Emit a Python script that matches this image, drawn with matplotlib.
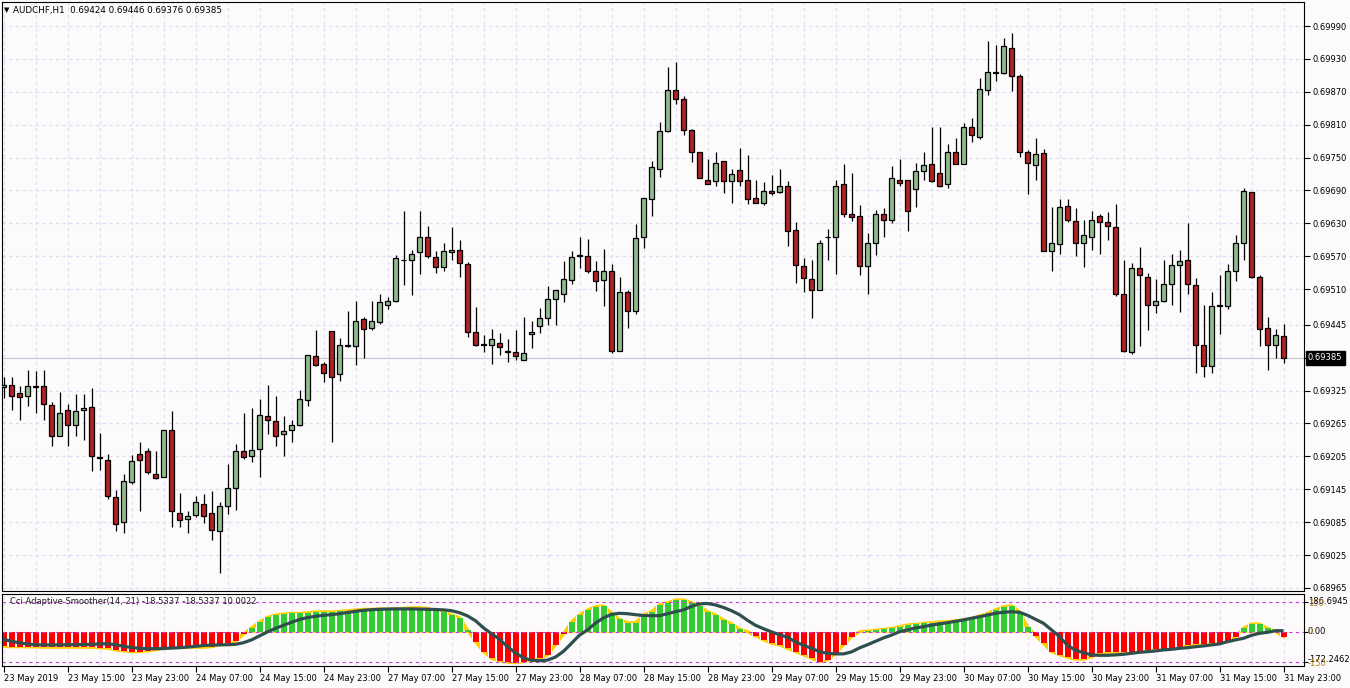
import numpy as np
import matplotlib
matplotlib.use("Agg")
import matplotlib.pyplot as plt
from matplotlib.transforms import blended_transform_factory, ScaledTranslation

# ---------------- data (AUDCHF H1, 23 May 07:00 .. 31 May 23:00) ----------------
opens = [0.69331, 0.69335, 0.69320, 0.69315, 0.69332, 0.69333, 0.69298, 0.69243, 0.69289, 0.69262,
         0.69289, 0.69295, 0.69203, 0.69198, 0.69130, 0.69085, 0.69158, 0.69209, 0.69214, 0.69172,
         0.69167, 0.69253, 0.69102, 0.69090, 0.69098, 0.69119, 0.69101, 0.69068, 0.69114, 0.69147,
         0.69214, 0.69205, 0.69218, 0.69278, 0.69269, 0.69245, 0.69253, 0.69262, 0.69307, 0.69388,
         0.69373, 0.69433, 0.69355, 0.69406, 0.69406, 0.69455, 0.69439, 0.69450, 0.69482, 0.69488,
         0.69563, 0.69563, 0.69577, 0.69606, 0.69568, 0.69550, 0.69577, 0.69581, 0.69555, 0.69431,
         0.69410, 0.69408, 0.69411, 0.69397, 0.69395, 0.69380, 0.69428, 0.69442, 0.69457, 0.69492,
         0.69502, 0.69526, 0.69572, 0.69570, 0.69544, 0.69526, 0.69543, 0.69398, 0.69504, 0.69471,
         0.69605, 0.69674, 0.69730, 0.69798, 0.69873, 0.69856, 0.69800, 0.69760, 0.69710, 0.69707,
         0.69743, 0.69707, 0.69727, 0.69709, 0.69676, 0.69667, 0.69689, 0.69687, 0.69699, 0.69617,
         0.69552, 0.69528, 0.69508, 0.69606, 0.69605, 0.69701, 0.69647, 0.69643, 0.69552, 0.69594,
         0.69647, 0.69637, 0.69709, 0.69709, 0.69692, 0.69725, 0.69738, 0.69721, 0.69701, 0.69760,
         0.69738, 0.69805, 0.69787, 0.69873, 0.69907, 0.69904, 0.69949, 0.69898, 0.69760, 0.69736,
         0.69758, 0.69579, 0.69592, 0.69661, 0.69634, 0.69594, 0.69606, 0.69643, 0.69632, 0.69623,
         0.69502, 0.69395, 0.69548, 0.69533, 0.69481, 0.69488, 0.69519, 0.69554, 0.69563, 0.69517,
         0.69409, 0.69369, 0.69481, 0.69479, 0.69543, 0.69594, 0.69687, 0.69532, 0.69439, 0.69409,
         0.69424]
highs = [0.69350, 0.69349, 0.69333, 0.69363, 0.69361, 0.69363, 0.69304, 0.69322, 0.69300, 0.69319,
         0.69319, 0.69330, 0.69248, 0.69209, 0.69144, 0.69172, 0.69207, 0.69231, 0.69220, 0.69214,
         0.69253, 0.69287, 0.69138, 0.69105, 0.69133, 0.69136, 0.69141, 0.69121, 0.69191, 0.69227,
         0.69284, 0.69293, 0.69309, 0.69336, 0.69315, 0.69278, 0.69271, 0.69326, 0.69389, 0.69436,
         0.69378, 0.69433, 0.69420, 0.69470, 0.69488, 0.69459, 0.69488, 0.69501, 0.69495, 0.69572,
         0.69652, 0.69581, 0.69652, 0.69626, 0.69579, 0.69594, 0.69623, 0.69599, 0.69559, 0.69477,
         0.69426, 0.69437, 0.69430, 0.69419, 0.69435, 0.69459, 0.69451, 0.69475, 0.69515, 0.69508,
         0.69561, 0.69579, 0.69605, 0.69601, 0.69561, 0.69583, 0.69555, 0.69532, 0.69508, 0.69628,
         0.69676, 0.69743, 0.69814, 0.69915, 0.69924, 0.69862, 0.69802, 0.69761, 0.69747, 0.69761,
         0.69743, 0.69729, 0.69767, 0.69754, 0.69710, 0.69705, 0.69718, 0.69729, 0.69707, 0.69632,
         0.69566, 0.69564, 0.69599, 0.69619, 0.69710, 0.69738, 0.69721, 0.69663, 0.69612, 0.69654,
         0.69658, 0.69734, 0.69747, 0.69709, 0.69740, 0.69761, 0.69805, 0.69805, 0.69774, 0.69785,
         0.69813, 0.69823, 0.69895, 0.69963, 0.69955, 0.69969, 0.69977, 0.69902, 0.69763, 0.69785,
         0.69765, 0.69659, 0.69674, 0.69674, 0.69658, 0.69636, 0.69652, 0.69648, 0.69650, 0.69665,
         0.69564, 0.69557, 0.69586, 0.69539, 0.69528, 0.69564, 0.69574, 0.69581, 0.69630, 0.69530,
         0.69482, 0.69504, 0.69535, 0.69555, 0.69608, 0.69694, 0.69687, 0.69535, 0.69459, 0.69437,
         0.69446]
lows = [0.69311, 0.69290, 0.69271, 0.69297, 0.69285, 0.69271, 0.69223, 0.69243, 0.69223, 0.69243,
        0.69234, 0.69179, 0.69181, 0.69127, 0.69068, 0.69065, 0.69155, 0.69106, 0.69172, 0.69163,
        0.69167, 0.69076, 0.69077, 0.69066, 0.69094, 0.69084, 0.69053, 0.68992, 0.69099, 0.69108,
        0.69200, 0.69194, 0.69168, 0.69245, 0.69223, 0.69206, 0.69232, 0.69260, 0.69297, 0.69369,
        0.69340, 0.69231, 0.69342, 0.69404, 0.69372, 0.69385, 0.69435, 0.69446, 0.69473, 0.69486,
        0.69518, 0.69500, 0.69538, 0.69566, 0.69539, 0.69544, 0.69563, 0.69532, 0.69422, 0.69406,
        0.69395, 0.69373, 0.69389, 0.69377, 0.69380, 0.69380, 0.69402, 0.69430, 0.69444, 0.69445,
        0.69486, 0.69519, 0.69548, 0.69539, 0.69506, 0.69480, 0.69393, 0.69398, 0.69440, 0.69464,
        0.69585, 0.69644, 0.69714, 0.69796, 0.69847, 0.69791, 0.69742, 0.69712, 0.69701, 0.69698,
        0.69685, 0.69667, 0.69698, 0.69665, 0.69667, 0.69663, 0.69681, 0.69685, 0.69589, 0.69521,
        0.69504, 0.69457, 0.69508, 0.69564, 0.69537, 0.69641, 0.69634, 0.69535, 0.69502, 0.69572,
        0.69606, 0.69630, 0.69698, 0.69616, 0.69659, 0.69709, 0.69705, 0.69696, 0.69694, 0.69738,
        0.69738, 0.69779, 0.69783, 0.69864, 0.69889, 0.69902, 0.69871, 0.69751, 0.69683, 0.69709,
        0.69579, 0.69544, 0.69575, 0.69632, 0.69570, 0.69550, 0.69581, 0.69575, 0.69599, 0.69497,
        0.69395, 0.69391, 0.69406, 0.69435, 0.69466, 0.69486, 0.69482, 0.69468, 0.69501, 0.69357,
        0.69349, 0.69357, 0.69428, 0.69473, 0.69524, 0.69563, 0.69530, 0.69406, 0.69362, 0.69384,
        0.69376]
closes = [0.69335, 0.69315, 0.69313, 0.69333, 0.69333, 0.69300, 0.69243, 0.69285, 0.69262, 0.69287,
          0.69293, 0.69205, 0.69202, 0.69132, 0.69081, 0.69160, 0.69196, 0.69198, 0.69176, 0.69165,
          0.69253, 0.69105, 0.69088, 0.69096, 0.69121, 0.69096, 0.69070, 0.69114, 0.69147, 0.69214,
          0.69203, 0.69216, 0.69280, 0.69271, 0.69242, 0.69251, 0.69262, 0.69309, 0.69389, 0.69371,
          0.69357, 0.69349, 0.69408, 0.69409, 0.69451, 0.69437, 0.69451, 0.69486, 0.69488, 0.69566,
          0.69564, 0.69574, 0.69605, 0.69570, 0.69550, 0.69579, 0.69581, 0.69557, 0.69431, 0.69409,
          0.69409, 0.69419, 0.69404, 0.69396, 0.69388, 0.69393, 0.69431, 0.69457, 0.69492, 0.69508,
          0.69528, 0.69568, 0.69570, 0.69543, 0.69524, 0.69543, 0.69398, 0.69504, 0.69471, 0.69603,
          0.69676, 0.69732, 0.69798, 0.69873, 0.69856, 0.69800, 0.69760, 0.69712, 0.69701, 0.69741,
          0.69707, 0.69720, 0.69707, 0.69674, 0.69668, 0.69689, 0.69685, 0.69698, 0.69616, 0.69554,
          0.69530, 0.69508, 0.69594, 0.69605, 0.69699, 0.69648, 0.69641, 0.69552, 0.69594, 0.69647,
          0.69636, 0.69712, 0.69703, 0.69652, 0.69725, 0.69736, 0.69707, 0.69699, 0.69760, 0.69738,
          0.69805, 0.69792, 0.69875, 0.69906, 0.69904, 0.69953, 0.69898, 0.69761, 0.69741, 0.69756,
          0.69579, 0.69594, 0.69659, 0.69636, 0.69594, 0.69608, 0.69637, 0.69632, 0.69626, 0.69502,
          0.69397, 0.69548, 0.69535, 0.69481, 0.69488, 0.69519, 0.69554, 0.69561, 0.69519, 0.69408,
          0.69369, 0.69479, 0.69479, 0.69543, 0.69595, 0.69689, 0.69533, 0.69437, 0.69409, 0.69426,
          0.69385]

# Cci Adaptive Smoother histogram values and its smoothed line
cci_hist = [-70, -72, -72, -73, -73, -75, -75, -75, -75, -75,
            -75, -75, -77, -80, -88, -93, -97, -97, -93, -88,
            -80, -73, -72, -75, -75, -75, -72, -63, -55, -45,
            -10, 23, 50, 75, 87, 92, 95, 95, 98, 102,
            103, 102, 105, 108, 112, 115, 115, 117, 117, 117,
            120, 123, 123, 120, 108, 103, 87, 73, 12, -47,
            -97, -130, -142, -150, -152, -147, -138, -130, -113, -63,
            -8, 53, 87, 112, 128, 132, 95, 65, 48, 48,
            87, 103, 137, 148, 162, 162, 148, 132, 103, 87,
            62, 42, 17, 3, -18, -38, -55, -63, -80, -97,
            -113, -130, -147, -138, -105, -63, -22, 3, 7, 10,
            15, 20, 28, 37, 40, 45, 48, 52, 53, 58,
            62, 70, 82, 95, 112, 128, 133, 103, 28, -17,
            -55, -97, -113, -125, -135, -135, -122, -105, -100, -100,
            -100, -97, -93, -88, -85, -83, -80, -72, -63, -60,
            -58, -55, -52, -42, -22, 20, 42, 42, 20, 3,
            -22]
cci_line = [-35, -45, -53, -58, -62, -63, -63, -63, -62, -62,
            -61, -60, -58, -57, -62, -70, -76, -80, -82, -82,
            -81, -79, -77, -74, -70, -66, -64, -63, -62, -60,
            -52, -38, -18, 2, 20, 35, 50, 64, 74, 80,
            85, 88, 93, 99, 105, 110, 113, 115, 116, 117,
            117, 117, 116, 115, 114, 112, 108, 98, 82, 58,
            22, -7, -35, -72, -103, -128, -140, -142, -139, -124,
            -95, -55, -14, 12, 46, 72, 90, 95, 93, 88,
            84, 83, 83, 93, 103, 112, 130, 142, 144, 137,
            124, 108, 88, 60, 35, 18, 2, -12, -25, -48,
            -65, -80, -97, -105, -108, -108, -98, -78, -62, -45,
            -28, -14, 3, 12, 22, 28, 36, 42, 48, 55,
            62, 70, 78, 86, 95, 100, 103, 100, 85, 65,
            45, 12, -22, -65, -90, -102, -113, -115, -115, -113,
            -110, -105, -100, -97, -93, -88, -85, -80, -77, -72,
            -68, -63, -58, -47, -38, -30, -15, -5, 0, 8,
            8]
cci_levels = [150, 0, -150]

price_labels = ["0.69990", "0.69930", "0.69870", "0.69810", "0.69750", "0.69690",
                "0.69630", "0.69570", "0.69510", "0.69445", "0.69385", "0.69325",
                "0.69265", "0.69205", "0.69145", "0.69085", "0.69025", "0.68965"]
time_labels = ["23 May 2019", "23 May 15:00", "23 May 23:00", "24 May 07:00", "24 May 15:00",
               "24 May 23:00", "27 May 07:00", "27 May 15:00", "27 May 23:00", "28 May 07:00",
               "28 May 15:00", "28 May 23:00", "29 May 07:00", "29 May 15:00", "29 May 23:00",
               "30 May 07:00", "30 May 15:00", "30 May 23:00", "31 May 07:00", "31 May 15:00",
               "31 May 23:00"]
symbol = "AUDCHF,H1"
ind_title = "Cci Adaptive Smoother(14, 21) -18.5337 -18.5337 10.0022"

# ---------------- style ----------------
W, H = 1350, 688
BG = "#FCFAFA"
GRID = "#DCDCF2"
BULL = "#8FBC8F"
BEAR = "#B22222"
GREEN = "#32CD32"
RED = "#FF0000"
YELLOW = "#FFD000"
LINEC = "#2F4F4F"
MAG = "#C23FD6"
plt.rcParams['font.family'] = ['DejaVu Sans']
plt.rcParams['font.size'] = 6

fig = plt.figure(figsize=(W / 100, H / 100), dpi=100, facecolor=BG)


def box(l, t, r, b):
    return [l / W, 1 - b / H, (r - l) / W, (b - t) / H]


def ftext(x, y, s, **kw):
    kw.setdefault('va', 'center')
    kw.setdefault('ha', 'left')
    fig.text(x / W, 1 - y / H, s, **kw)


ax = fig.add_axes(box(2, 2, 1304, 591), facecolor=BG)
ax2 = fig.add_axes(box(2, 594, 1304, 666), facecolor=BG)

n = len(opens)
idx = np.arange(n)
o, h, l, c = (np.array(v) for v in (opens, highs, lows, closes))
XL = (-0.1875, 162.5625)

# ---------------- main candle panel ----------------
up = c >= o
ax.vlines(idx, l, h, color='black', lw=0.9, zorder=2)
ax.bar(idx, np.maximum(np.abs(c - o), 1e-7), bottom=np.minimum(o, c), width=0.56,
       color=np.where(up, BULL, BEAR), edgecolor='black', linewidth=0.9, zorder=3)
ax.axhline(c[-1], color='#C8C8D8', lw=0.8, zorder=1)

last_label = f"{c[-1]:.5f}"
ax.set_xlim(*XL)
ax.set_ylim(0.689594, 0.700338)
ax.set_yticks([float(s) for s in price_labels])
# the current-price box replaces the grid label at the same level
ax.set_yticklabels(["" if s == last_label else s for s in price_labels])
ax.yaxis.tick_right()
ax.tick_params(axis='y', direction='out', length=4, width=0.8, pad=2, labelsize=6)
ax.set_xticks(np.arange(0, n, 4))
ax.tick_params(axis='x', length=0, labelbottom=False)
ax.grid(True, color=GRID, lw=0.8, ls=(0, (3, 3)))
ax.set_axisbelow(True)
for sp in ax.spines.values():
    sp.set_color('black')
    sp.set_linewidth(0.8)

trans = blended_transform_factory(ax.transAxes, ax.transData) + \
    ScaledTranslation(4 / 100, 0, fig.dpi_scale_trans)
ax.text(1.0, c[-1], last_label, transform=trans, ha='left', va='center',
        color='white', fontsize=6,
        bbox=dict(boxstyle='square,pad=0.3', fc='black', ec='black'),
        clip_on=False, zorder=10)

ftext(4, 10, "\u25BC", fontsize=5, color='black')
ftext(13, 10, f"{symbol}  {o[-1]:.5f} {h[-1]:.5f} {l[-1]:.5f} {c[-1]:.5f}",
      color='black', fontsize=6.3)

# ---------------- indicator panel ----------------
hv = np.array(cci_hist, dtype=float)
ax2.fill_between(idx, 0, hv, color=YELLOW, lw=0, zorder=1)
ax2.plot(idx, hv, color=YELLOW, lw=2.2, zorder=1.1, solid_joinstyle='round')
ax2.bar(idx, hv, width=1.0, color=BG, lw=0, zorder=1.2)
ax2.bar(idx, hv, width=0.75, color=np.where(hv > 0, GREEN, RED), lw=0, zorder=1.3)
for lv in cci_levels:
    ax2.axhline(lv, color=MAG, lw=0.8, ls=(0, (3, 3)), zorder=2)
ax2.plot(idx, cci_line, color=LINEC, lw=2.3, zorder=3, solid_capstyle='butt')

ax2.set_xlim(*XL)
ax2.set_ylim(-168.5, 191.5)
ax2.set_yticks(cci_levels)
ax2.set_yticklabels([])
ax2.yaxis.tick_right()
ax2.tick_params(axis='y', direction='out', length=3, width=0.8)
ax2.xaxis.remove_overlapping_locs = False
ax2.set_xticks(np.arange(0, n, 8))
ax2.set_xticklabels(time_labels, ha='left')
ax2.set_xticks(np.arange(0, n, 4), minor=True)
ax2.tick_params(axis='x', which='major', direction='out', length=4, width=0.8, pad=2, labelsize=6)
ax2.tick_params(axis='x', which='minor', length=0)
ax2.grid(True, which='minor', axis='x', color=GRID, lw=0.8, ls=(0, (3, 3)))
ax2.set_axisbelow(True)
for sp in ax2.spines.values():
    sp.set_color('black')
    sp.set_linewidth(0.8)

ftext(10, 601, ind_title, color='#202020')
ftext(1308, 601, "186.6945", color='black')
ftext(1308, 603, "150", color='#A87C1E')
ftext(1308, 632, "0.00", color='black')
ftext(1308, 632, "0", color='#A87C1E')
ftext(1308, 660, "-172.2462", color='black')
ftext(1308, 663, "-150", color='#A87C1E')

fig.savefig("out.png", dpi=100, facecolor=BG)
